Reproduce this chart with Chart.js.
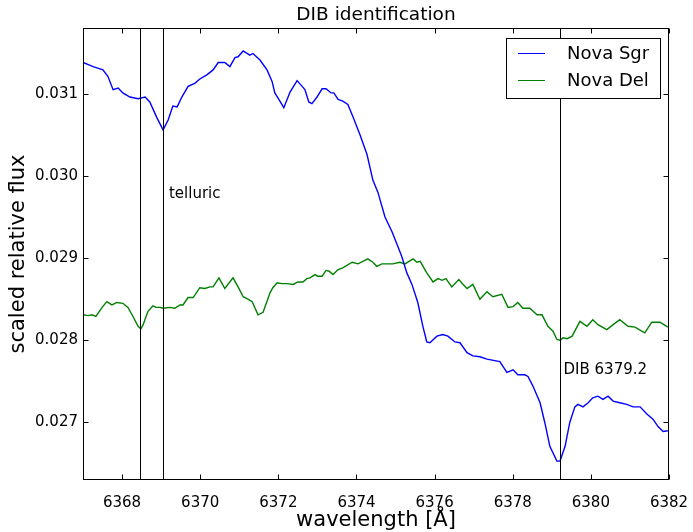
<!DOCTYPE html>
<html>
<head>
<meta charset="utf-8">
<script src="https://cdn.jsdelivr.net/npm/chart.js@4/dist/chart.umd.min.js"></script>
<style>
  html, body { margin: 0; padding: 0; background: #fff; }
  #wrap { width: 693px; height: 532px; }
</style>
</head>
<body>
<div id="wrap"><canvas id="dib-chart" width="693" height="532"></canvas></div>
<script>
// Nova Sgr spectrum (wavelength in Å, scaled flux)
const sgrWave = [6367.00, 6367.26, 6367.51, 6367.64, 6367.77, 6367.90, 6368.02, 6368.20, 6368.41, 6368.59,
  6368.71, 6368.89, 6369.05, 6369.18, 6369.30, 6369.41, 6369.53, 6369.69, 6369.87, 6369.99,
  6370.17, 6370.33, 6370.46, 6370.63, 6370.76, 6370.89, 6370.97, 6371.10, 6371.27, 6371.35,
  6371.53, 6371.71, 6371.84, 6371.91, 6371.99, 6372.14, 6372.30, 6372.48, 6372.61, 6372.68,
  6372.78, 6372.86, 6372.99, 6373.12, 6373.22, 6373.35, 6373.42, 6373.53, 6373.65, 6373.78,
  6373.91, 6374.09, 6374.27, 6374.42, 6374.55, 6374.73, 6374.91, 6375.06, 6375.16, 6375.29,
  6375.42, 6375.57, 6375.70, 6375.80, 6375.88, 6376.06, 6376.21, 6376.34, 6376.52, 6376.65,
  6376.83, 6376.98, 6377.16, 6377.34, 6377.67, 6377.85, 6378.01, 6378.13, 6378.31, 6378.39,
  6378.52, 6378.70, 6378.82, 6378.95, 6379.13, 6379.21, 6379.34, 6379.46, 6379.59, 6379.67,
  6379.80, 6379.93, 6380.05, 6380.18, 6380.31, 6380.44, 6380.57, 6380.74, 6380.92, 6381.08,
  6381.26, 6381.44, 6381.59, 6381.72, 6381.85, 6381.97];
const sgrFlux = [0.03138, 0.03133, 0.03129, 0.03121, 0.03105, 0.03107, 0.03101, 0.03096, 0.03094, 0.03096,
  0.03090, 0.03071, 0.03056, 0.03068, 0.03085, 0.03084, 0.03096, 0.03109, 0.03113, 0.03118,
  0.03123, 0.03129, 0.03138, 0.03138, 0.03133, 0.03144, 0.03145, 0.03152, 0.03147, 0.03149,
  0.03141, 0.03129, 0.03115, 0.03101, 0.03095, 0.03083, 0.03102, 0.03116, 0.03109, 0.03105,
  0.03090, 0.03088, 0.03096, 0.03106, 0.03106, 0.03101, 0.03101, 0.03093, 0.03091, 0.03087,
  0.03072, 0.03050, 0.03026, 0.02995, 0.02980, 0.02950, 0.02932, 0.02914, 0.02902, 0.02882,
  0.02868, 0.02846, 0.02817, 0.02798, 0.02797, 0.02805, 0.02807, 0.02805, 0.02798, 0.02797,
  0.02785, 0.02781, 0.02780, 0.02777, 0.02774, 0.02761, 0.02764, 0.02758, 0.02758, 0.02756,
  0.02744, 0.02724, 0.02700, 0.02671, 0.02653, 0.02653, 0.02671, 0.02700, 0.02719, 0.02722,
  0.02719, 0.02724, 0.02730, 0.02732, 0.02728, 0.02732, 0.02726, 0.02724, 0.02722, 0.02719,
  0.02719, 0.02710, 0.02704, 0.02695, 0.02689, 0.02690];

// Nova Del spectrum
const delWave = [6367.00, 6367.13, 6367.23, 6367.33, 6367.49, 6367.61, 6367.74, 6367.87, 6368.02, 6368.15,
  6368.28, 6368.41, 6368.48, 6368.54, 6368.66, 6368.79, 6368.87, 6368.97, 6369.05, 6369.23,
  6369.35, 6369.48, 6369.56, 6369.69, 6369.82, 6369.99, 6370.12, 6370.25, 6370.33, 6370.48,
  6370.63, 6370.84, 6370.97, 6371.10, 6371.22, 6371.33, 6371.48, 6371.61, 6371.79, 6371.86,
  6371.97, 6372.09, 6372.22, 6372.38, 6372.50, 6372.63, 6372.73, 6372.81, 6372.94, 6373.01,
  6373.12, 6373.22, 6373.30, 6373.40, 6373.53, 6373.65, 6373.89, 6374.04, 6374.29, 6374.42,
  6374.52, 6374.65, 6374.78, 6374.93, 6375.11, 6375.24, 6375.45, 6375.55, 6375.63, 6375.80,
  6375.96, 6376.09, 6376.19, 6376.29, 6376.44, 6376.62, 6376.73, 6376.83, 6376.98, 6377.16,
  6377.34, 6377.49, 6377.72, 6377.88, 6378.01, 6378.13, 6378.26, 6378.44, 6378.62, 6378.75,
  6378.90, 6379.03, 6379.13, 6379.21, 6379.29, 6379.39, 6379.52, 6379.72, 6379.90, 6380.05,
  6380.18, 6380.41, 6380.57, 6380.74, 6380.95, 6381.13, 6381.38, 6381.56, 6381.77, 6381.97];
const delFlux = [0.02831, 0.02830, 0.02831, 0.02829, 0.02840, 0.02847, 0.02843, 0.02846, 0.02845, 0.02840,
  0.02829, 0.02817, 0.02814, 0.02819, 0.02835, 0.02842, 0.02840, 0.02840, 0.02839, 0.02840,
  0.02839, 0.02843, 0.02843, 0.02852, 0.02852, 0.02864, 0.02863, 0.02865, 0.02865, 0.02876,
  0.02863, 0.02876, 0.02865, 0.02853, 0.02850, 0.02847, 0.02831, 0.02834, 0.02858, 0.02864,
  0.02870, 0.02869, 0.02869, 0.02868, 0.02871, 0.02871, 0.02875, 0.02876, 0.02880, 0.02878,
  0.02878, 0.02885, 0.02884, 0.02880, 0.02886, 0.02888, 0.02895, 0.02893, 0.02899, 0.02895,
  0.02890, 0.02893, 0.02893, 0.02893, 0.02895, 0.02893, 0.02899, 0.02895, 0.02896, 0.02882,
  0.02871, 0.02875, 0.02873, 0.02875, 0.02865, 0.02874, 0.02868, 0.02863, 0.02868, 0.02850,
  0.02859, 0.02853, 0.02856, 0.02840, 0.02841, 0.02846, 0.02839, 0.02839, 0.02831, 0.02831,
  0.02817, 0.02811, 0.02801, 0.02800, 0.02803, 0.02802, 0.02805, 0.02823, 0.02817, 0.02825,
  0.02819, 0.02813, 0.02819, 0.02825, 0.02817, 0.02816, 0.02809, 0.02822, 0.02822, 0.02816];

// marked features
const markerWave = [6368.45, 6369.05, 6379.2];
const notes = [
  { text: 'telluric', x: 6369.2, y: 0.02978 },
  { text: 'DIB 6379.2', x: 6379.3, y: 0.02764 }
];

const xTicks = [6368, 6370, 6372, 6374, 6376, 6378, 6380, 6382];
const yTicks = [0.027, 0.028, 0.029, 0.030, 0.031];
const xRange = [6367, 6382];
const yRange = [0.0263, 0.0318];

const FONT = '"DejaVu Sans", sans-serif';

function toPoints(xs, ys) {
  return xs.map((x, i) => ({ x: x, y: ys[i] }));
}

const series = [
  { label: 'Nova Sgr', color: '#0000ff', data: toPoints(sgrWave, sgrFlux) },
  { label: 'Nova Del', color: '#008000', data: toPoints(delWave, delFlux) }
];

// draws frame, inward ticks, marker lines, notes, legend and titles
const decorations = {
  id: 'decorations',
  afterDatasetsDraw(chart) {
    const ctx = chart.ctx;
    const area = chart.chartArea;
    const xs = chart.scales.x;
    ctx.save();
    ctx.strokeStyle = '#000';
    ctx.lineWidth = 1;
    markerWave.forEach(w => {
      const px = Math.round(xs.getPixelForValue(w)) + 0.5;
      ctx.beginPath();
      ctx.moveTo(px, area.top);
      ctx.lineTo(px, area.bottom);
      ctx.stroke();
    });
    ctx.restore();
  },
  afterDraw(chart) {
    const ctx = chart.ctx;
    const area = chart.chartArea;
    const xs = chart.scales.x, ys = chart.scales.y;
    const L = Math.round(area.left) + 0.5, R = Math.round(area.right) - 0.5;
    const T = Math.round(area.top) + 0.5, B = Math.round(area.bottom) - 0.5;
    ctx.save();
    ctx.strokeStyle = '#000';
    ctx.lineWidth = 1;
    ctx.strokeRect(L, T, R - L, B - T);

    const tl = 5;
    ctx.beginPath();
    xTicks.forEach(v => {
      const px = Math.round(xs.getPixelForValue(v)) + 0.5;
      ctx.moveTo(px, B); ctx.lineTo(px, B - tl);
      ctx.moveTo(px, T); ctx.lineTo(px, T + tl);
    });
    yTicks.forEach(v => {
      const py = Math.round(ys.getPixelForValue(v)) + 0.5;
      ctx.moveTo(L, py); ctx.lineTo(L + tl, py);
      ctx.moveTo(R, py); ctx.lineTo(R - tl, py);
    });
    ctx.stroke();

    // annotations
    ctx.fillStyle = '#000';
    ctx.font = '15px ' + FONT;
    ctx.textAlign = 'left';
    ctx.textBaseline = 'middle';
    notes.forEach(n => {
      ctx.fillText(n.text, xs.getPixelForValue(n.x), ys.getPixelForValue(n.y));
    });

    // legend box, upper right
    const bx = 506.5, by = 38.5, bw = 154, bh = 60;
    ctx.fillStyle = '#fff';
    ctx.fillRect(bx, by, bw, bh);
    ctx.strokeRect(bx, by, bw, bh);
    ctx.font = '18px ' + FONT;
    series.forEach((s, i) => {
      const y = 53 + i * 27;
      ctx.strokeStyle = s.color;
      ctx.beginPath();
      ctx.moveTo(518, y + 0.5);
      ctx.lineTo(545, y + 0.5);
      ctx.stroke();
      ctx.fillStyle = '#000';
      ctx.fillText(s.label, 567, y + 1);
    });

    // title and axis labels
    ctx.fillStyle = '#000';
    ctx.textAlign = 'center';
    ctx.font = '18.5px ' + FONT;
    ctx.fillText('DIB identification', (area.left + area.right) / 2, 15);
    ctx.font = '21px ' + FONT;
    ctx.fillText('wavelength [Å]', (area.left + area.right) / 2, 521);
    ctx.translate(19, (area.top + area.bottom) / 2);
    ctx.rotate(-Math.PI / 2);
    ctx.fillText('scaled relative flux', 0, 0);
    ctx.restore();
  }
};

new Chart(document.getElementById('dib-chart').getContext('2d'), {
  type: 'line',
  data: {
    datasets: series.map(s => ({
      label: s.label,
      data: s.data,
      borderColor: s.color,
      backgroundColor: s.color,
      borderWidth: 1.4,
      pointRadius: 0,
      tension: 0,
      fill: false
    }))
  },
  options: {
    responsive: false,
    animation: false,
    events: [],
    layout: { padding: { left: 0, right: 24, top: 28, bottom: 0 } },
    plugins: {
      legend: { display: false },
      tooltip: { enabled: false },
      title: { display: false }
    },
    scales: {
      x: {
        type: 'linear',
        min: xRange[0],
        max: xRange[1],
        grid: { display: false, drawTicks: false },
        border: { display: false },
        afterBuildTicks: scale => { scale.ticks = xTicks.map(v => ({ value: v })); },
        afterFit: scale => {
          scale.height = 52;
          scale.paddingLeft = 0;
          scale.paddingRight = 0;
        },
        ticks: {
          padding: 14,
          color: '#000',
          font: { family: FONT, size: 15 },
          maxRotation: 0,
          callback: v => String(v)
        }
      },
      y: {
        type: 'linear',
        min: yRange[0],
        max: yRange[1],
        grid: { display: false, drawTicks: false },
        border: { display: false },
        afterBuildTicks: scale => { scale.ticks = yTicks.map(v => ({ value: v })); },
        afterFit: scale => {
          scale.width = 83;
          scale.paddingTop = 0;
          scale.paddingBottom = 0;
        },
        ticks: {
          padding: 5,
          color: '#000',
          font: { family: FONT, size: 15 },
          callback: v => v.toFixed(3)
        }
      }
    }
  },
  plugins: [decorations]
});
</script>
</body>
</html>
